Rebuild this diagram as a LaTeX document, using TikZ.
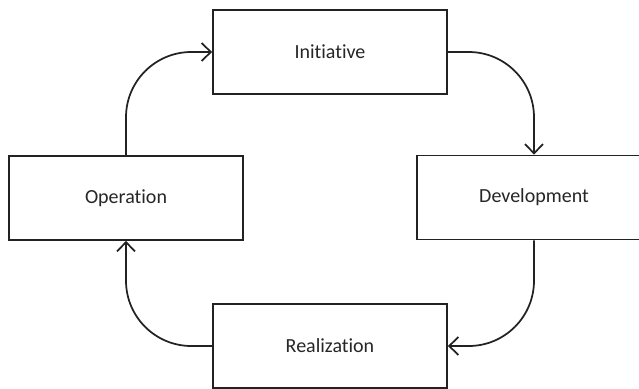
\documentclass[tikz,border=0pt]{standalone}
\usepackage{fontspec}
\setmainfont{Carlito}[Ligatures={NoCommon,NoContextual}]
\usetikzlibrary{arrows.meta,positioning}
\definecolor{CycleLine}{HTML}{222222}
\definecolor{CycleText}{HTML}{262626}
\tikzset{>={Straight Barb[length=7pt,width=13.5pt,line width=1.3pt]},
 every node/.style={font=\fontsize{15}{18}\selectfont,text=CycleText},
 block/.style={draw=CycleLine,line width=1.3pt,fill=white,minimum width=175.5pt,
 minimum height=63pt,align=center},
 loop/.style={draw=CycleLine,line width=1.3pt,->,rounded corners=49pt}}

\begin{document}
\begin{tikzpicture}[x=.75pt,y=-.75pt]
\clip (0,0) rectangle (639,389);
\node[block] (init) at (330,52){Initiative};
\node[block] (dev) at (534,197.5){Development};
\node[block] (real) at (330,346){Realization};
\node[block] (oper) at (126,198){Operation};
\draw[loop] (init.east) -| (dev.north);
\draw[loop] (dev.south) |- (real.east);
\draw[loop] (real.west) -| (oper.south);
\draw[loop] (oper.north) |- (init.west);
\end{tikzpicture}
\end{document}
